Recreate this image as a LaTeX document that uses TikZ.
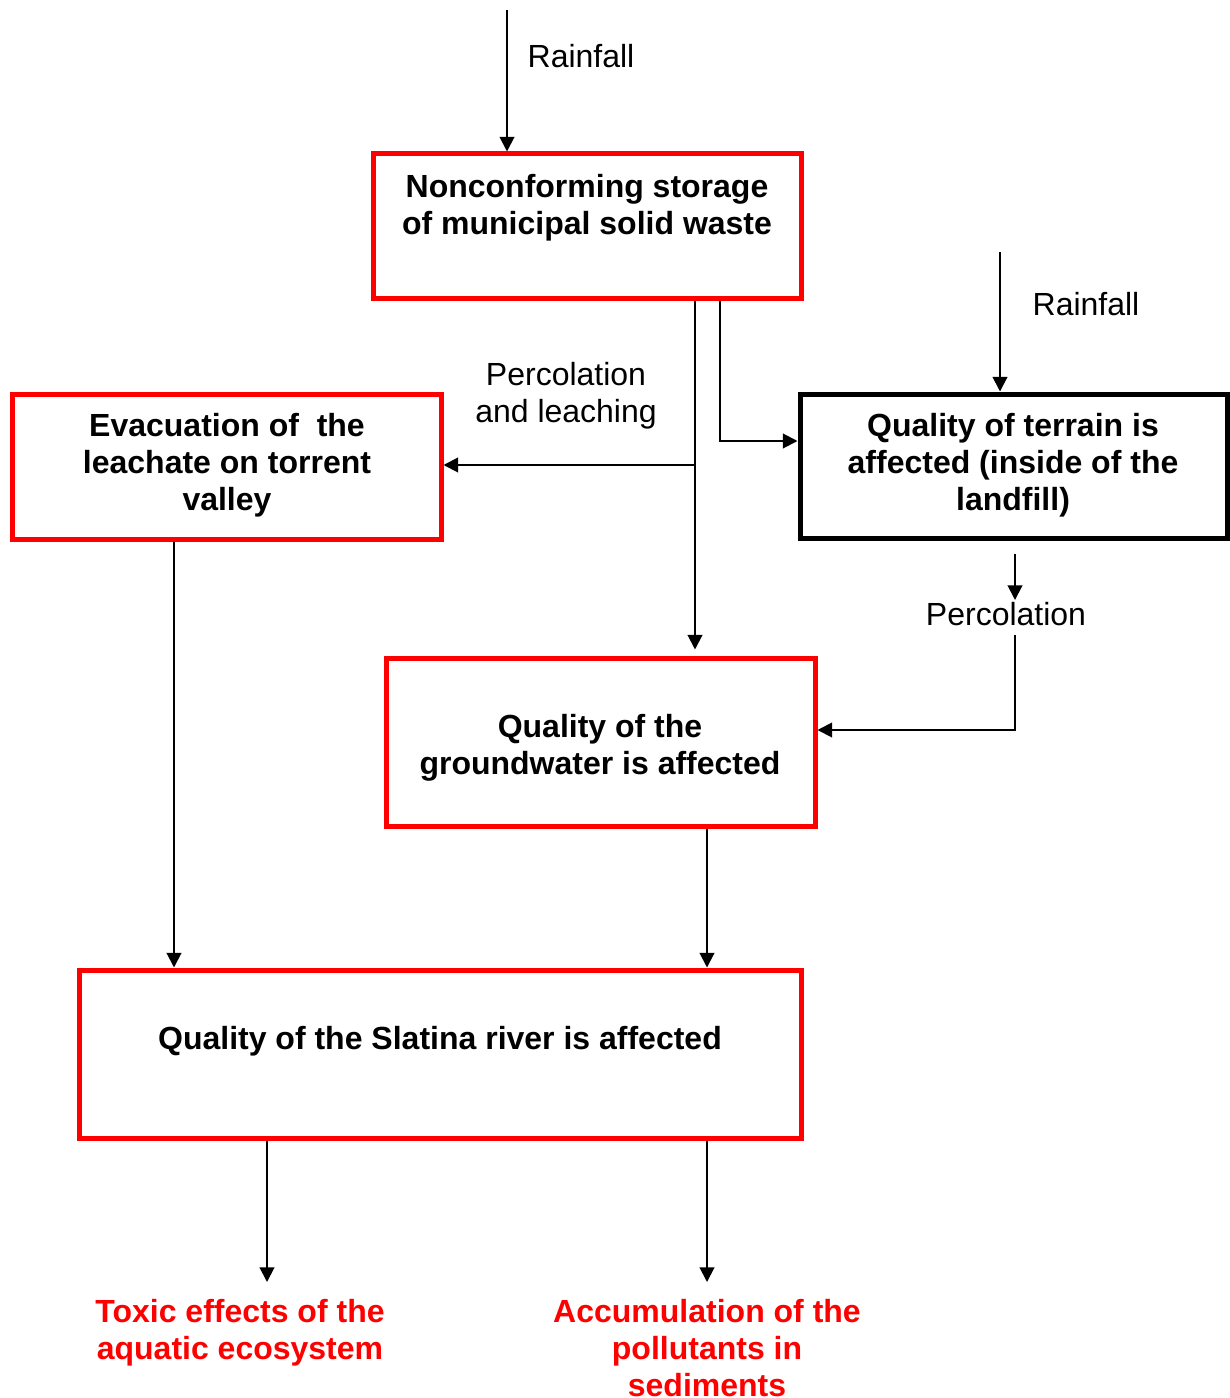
\documentclass[tikz,border=0pt]{standalone}
\usepackage{fontspec}
\setmainfont{Liberation Sans}
\usetikzlibrary{arrows.meta}
\begin{document}
\begin{tikzpicture}[x=0.75pt,y=-0.75pt,
  font=\fontsize{24}{27.75}\selectfont,
  redbox/.style={draw=red, line width=3.75pt, inner sep=0pt},
  blackbox/.style={draw=black, line width=3.75pt, inner sep=0pt},
  conn/.style={line width=1.5pt},
  arr/.style={line width=1.5pt, -{Triangle[length=11pt,width=11pt]}},
  txt/.style={align=center, inner sep=0pt},
  btxt/.style={align=center, inner sep=0pt, font=\fontsize{24}{27.75}\selectfont\bfseries},
  rtxt/.style={align=center, inner sep=0pt, text=red, font=\fontsize{24}{27.75}\selectfont\bfseries}]
\useasboundingbox (0,0) rectangle (1229,1398);
% boxes
\node[redbox, minimum width=321pt, minimum height=108pt] (top) at (587,226) {};
\node[redbox, minimum width=321.75pt, minimum height=108.75pt] (evac) at (226.5,466.5) {};
\node[blackbox, minimum width=320.25pt, minimum height=108pt] (terr) at (1013.5,466) {};
\node[redbox, minimum width=321.75pt, minimum height=126pt] (gw) at (600.5,742) {};
\node[redbox, minimum width=541.5pt, minimum height=126pt] (sla) at (440,1054) {};
% texts in boxes
\node[btxt] (toptext) at (587,207.5) {Nonconforming storage\\of municipal solid waste};
\node[btxt] (evactext) at (227,465.5) {Evacuation of~ the\\leachate on torrent\\valley};
\node[btxt] (terrtext) at (1013,465.5) {Quality of terrain is\\affected (inside of the\\landfill)};
\node[btxt] (gwtext) at (600,748) {Quality of the\\groundwater is affected};
\node[btxt] (slatext) at (440,1041) {Quality of the Slatina river is affected};
% labels
\node[txt] (rain1) at (581,56) {Rainfall};
\node[txt] (rain2) at (1086,304) {Rainfall};
\node[txt] (percleach) at (566,395.5) {Percolation\\and leaching};
\node[txt] (perc) at (1006,614) {Percolation};
\node[rtxt] (toxic) at (240,1332.5) {Toxic effects of the\\aquatic ecosystem};
\node[rtxt] (accum) at (707,1348) {Accumulation of the\\pollutants in\\sediments};
% coordinates
\coordinate (r1) at (507,10);
\coordinate (r2) at (1000,252);
\coordinate (m) at (695,465);
\coordinate (j2) at (720,441);
\coordinate (pa) at (1015,600);
\coordinate (pb) at (1015,635);
\coordinate (pc) at (1015,730);
\coordinate (e1) at (174,0);
\coordinate (g1) at (707,0);
\coordinate (t1) at (267,1282);
\coordinate (t2) at (707,1282);
% connectors
\draw[arr] (r1) -- (top.north -| r1);
\draw[arr] (r2) -- (terr.north -| r2);
\draw[arr, shorten >=4.5pt] (top.south -| m) -- (gw.north -| m);
\draw[arr] (m) -- (evac.east |- m);
\draw[arr] (top.south -| j2) -- (j2) -- (terr.west |- j2);
\draw[arr, shorten <=10pt] (terr.south -| pa) -- (pa);
\draw[arr] (pb) -- (pc) -- (gw.east |- pc);
\draw[arr] (evac.south -| e1) -- (sla.north -| e1);
\draw[arr] (gw.south -| g1) -- (sla.north -| g1);
\draw[arr] (sla.south -| t1) -- (t1);
\draw[arr] (sla.south -| t2) -- (t2);
\end{tikzpicture}
\end{document}
